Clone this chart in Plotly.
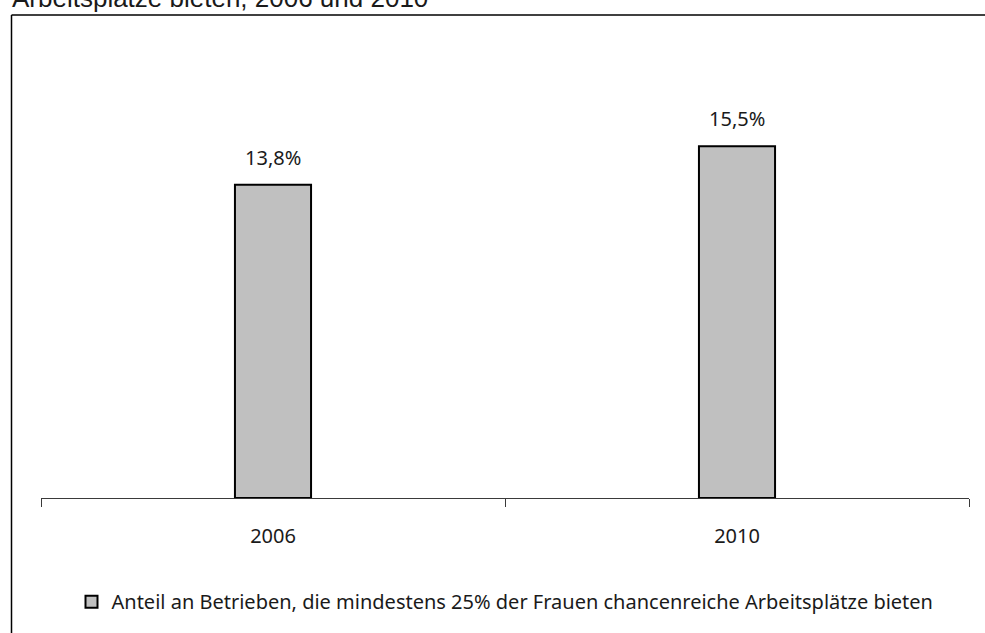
import plotly.graph_objects as go

# Data
years = ["2006", "2010"]
shares = [13.8, 15.5]
series_name = "Anteil an Betrieben, die mindestens 25% der Frauen chancenreiche Arbeitsplätze bieten"
title_text = "Arbeitsplätze bieten, 2006 und 2010"

W, H = 985, 633
ML, MR, MT, MB = 41, 16, 44, 129
plot_w = W - ML - MR
plot_h = H - MT - MB

FONT = "Noto Sans"
TITLE_FONT = "Liberation Sans"
TEXT_COLOR = "#1a1a1a"


def px_x(px):
    return (px - ML) / plot_w


def px_y(py):
    return (H - MB - py) / plot_h


fig = go.Figure()
fig.add_trace(go.Bar(
    x=years,
    y=shares,
    name=series_name,
    width=0.164,
    marker=dict(color="#C0C0C0", line=dict(color="#000000", width=2)),
    showlegend=True,
))

# value labels above the bars (category positions given by index)
annotations = [
    dict(
        x=i, y=v, xref="x", yref="y",
        text=f"{v:.1f}%".replace(".", ","),
        showarrow=False, yanchor="bottom", yshift=12,
        font=dict(family=FONT, size=20, color=TEXT_COLOR),
    )
    for i, v in enumerate(shares)
]

# title line, partly above the page edge
annotations.append(dict(
    x=px_x(10), y=1, xref="paper", yref="paper",
    xanchor="left", yanchor="bottom", yshift=29,
    text=title_text, showarrow=False,
    font=dict(family=TITLE_FONT, size=26, color=TEXT_COLOR),
))

# chart frame (left and top edges)
frame_x = px_x(11.5)
frame_y = px_y(14.5)
shapes = [
    dict(type="line", xref="paper", yref="paper",
         x0=frame_x, x1=frame_x, y0=frame_y, y1=-0.6,
         line=dict(color="#000000", width=1.5)),
    dict(type="line", xref="paper", yref="paper",
         x0=frame_x, x1=1.2, y0=frame_y, y1=frame_y,
         line=dict(color="#000000", width=1.5)),
]

fig.update_layout(
    width=W, height=H,
    margin=dict(l=ML, r=MR, t=MT, b=MB, pad=0),
    paper_bgcolor="white", plot_bgcolor="white",
    separators=",.",
    font=dict(family=FONT, size=20, color=TEXT_COLOR),
    annotations=annotations,
    shapes=shapes,
    showlegend=True,
    legend=dict(
        orientation="h", x=px_x(505), xanchor="center",
        y=px_y(609), yanchor="middle",
        font=dict(family=FONT, size=20, color=TEXT_COLOR),
        bgcolor="rgba(0,0,0,0)",
    ),
    xaxis=dict(
        type="category", categoryorder="array", categoryarray=years,
        range=[-0.5, 1.5],
        showline=True, linecolor="#3a3a3a", linewidth=1,
        ticks="outside", ticklen=8, tickcolor="#3a3a3a", tickwidth=1,
        tickson="boundaries", ticklabelstandoff=20,
        showgrid=False, zeroline=False,
        tickfont=dict(family=FONT, size=20, color=TEXT_COLOR),
    ),
    yaxis=dict(range=[0, 20], visible=False, showgrid=False, zeroline=False),
)

fig.write_html("out.html")
